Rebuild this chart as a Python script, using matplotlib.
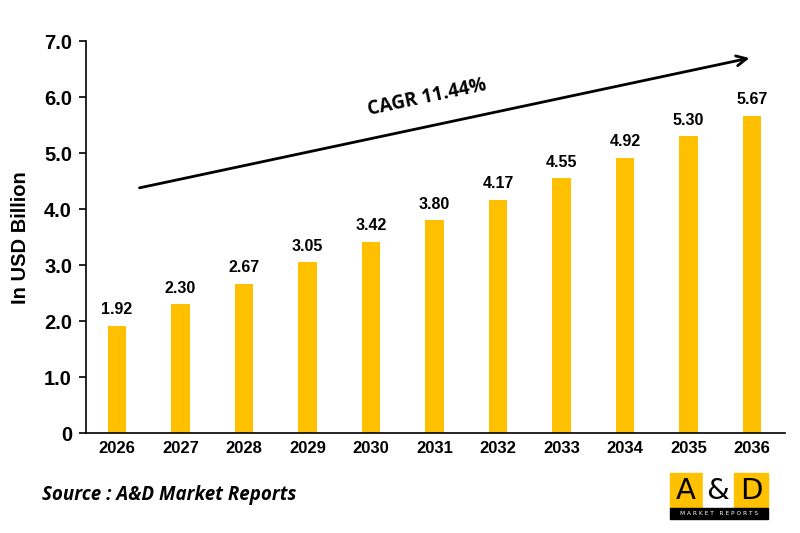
import matplotlib.pyplot as plt
from matplotlib.patches import Rectangle

## chart data
years = ['2026', '2027', '2028', '2029', '2030', '2031', '2032', '2033', '2034', '2035', '2036']
values = [1.92, 2.30, 2.67, 3.05, 3.42, 3.80, 4.17, 4.55, 4.92, 5.30, 5.67]
y_ticks = [0, 1, 2, 3, 4, 5, 6, 7]
y_tick_labels = ['0', '1.0', '2.0', '3.0', '4.0', '5.0', '6.0', '7.0']
cagr_text = 'CAGR 11.44%'

bar_color = '#FFC000'
font = 'Liberation Sans'

fig = plt.figure(figsize=(8, 5.33), dpi=100)
ax = fig.add_axes([0.1075, 0.1876, 0.874, 0.735])

x = list(range(len(years)))
ax.bar(x, values, width=0.29, color=bar_color, zorder=2)

## value labels above bars
for xi, v in zip(x, values):
    ax.text(xi, v + 0.15, f'{v:.2f}', ha='center', va='bottom',
            fontsize=11.5, fontweight='bold', family=font)

ax.set_xlim(-0.49, 10.52)
ax.set_ylim(0, 7)
ax.set_xticks(x)
ax.set_xticklabels(years, fontsize=12, fontweight='bold', family=font)
ax.set_yticks(y_ticks)
ax.set_yticklabels(y_tick_labels, fontsize=14.5, fontweight='bold', family=font)
ax.tick_params(axis='x', length=0, pad=6)
ax.tick_params(axis='y', length=5, width=1.2, pad=5)
ax.spines['top'].set_visible(False)
ax.spines['right'].set_visible(False)
ax.spines['left'].set_linewidth(1.2)
ax.spines['bottom'].set_linewidth(1.2)
ax.set_ylabel('In USD Billion', fontsize=14.5, fontweight='bold', family=font, labelpad=10)

## CAGR arrow
ax.annotate('', xy=(10.0, 6.71), xytext=(0.31, 4.37),
            arrowprops=dict(arrowstyle='->', color='black', lw=2, mutation_scale=18))
ax.text(4.88, 6.0, cagr_text, ha='center', va='center', rotation=12,
        fontsize=13.5, fontweight='bold', family='Open Sans')

## source note
fig.text(0.053, 0.072, 'Source : A&D Market Reports', fontsize=13.5, fontweight='bold',
         style='italic', family='Open Sans', va='center')

## logo
W, H = 800, 533
def fig_rect(x0, y0, w, h, color):
    fig.patches.append(Rectangle((x0 / W, 1 - (y0 + h) / H), w / W, h / H,
                                 transform=fig.transFigure, color=color, zorder=5))

fig_rect(670, 473, 33, 35, bar_color)
fig_rect(703, 473, 31, 35, 'white')
fig_rect(734, 473, 34, 35, bar_color)
fig_rect(670, 508, 98, 11, 'black')
for cx, s in [(686, 'A'), (718, '&'), (751, 'D')]:
    fig.text(cx / W, 1 - 491 / H, s, ha='center', va='center', fontsize=21,
             family='DejaVu Sans', color='black', zorder=6)
fig.text(719 / W, 1 - 513.5 / H, 'M A R K E T   R E P O R T S', ha='center', va='center',
         fontsize=4.2, family='DejaVu Sans', color='white', zorder=6)

fig.savefig('out.png', dpi=100, facecolor='white')
